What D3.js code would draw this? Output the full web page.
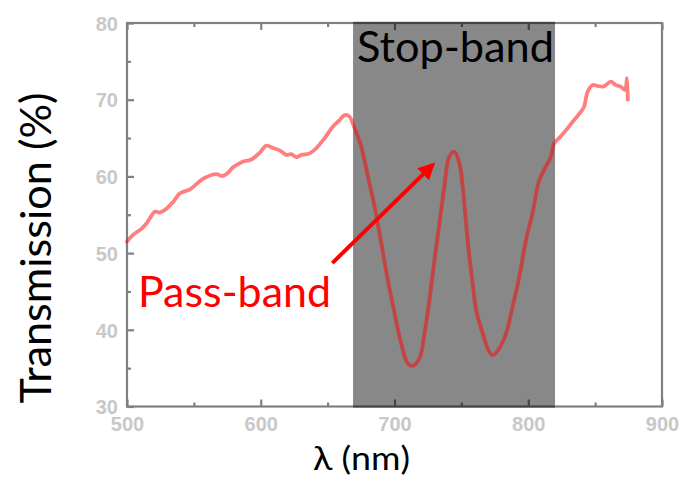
<!DOCTYPE html>
<html>
<head>
<meta charset="utf-8">
<script src="https://cdn.jsdelivr.net/npm/d3@7"></script>
<style>
  html, body { margin: 0; padding: 0; background: #fff; }
  svg { display: block; }
</style>
</head>
<body>
<svg id="chart" width="697" height="483"></svg>
<script>
// Measured transmission spectrum
const wavelength = [
  500, 504.7, 511, 514.7, 520.9, 524.6, 529.6, 534.6, 539.6, 547, 552, 557, 567, 570.7,
  574.4, 579.3, 584, 588, 593, 599.3, 604.2, 609.2, 614.2, 619.2, 622.9, 626.6, 630.4,
  636.6, 641.6, 647.8, 654, 659, 662.7, 666.4, 669.2, 675.1, 680.1, 685.1, 690.1, 695,
  700, 705, 710, 713.7, 718.7, 722.4, 726.1, 729.9, 733.6, 737.3, 741, 744.8, 748.5,
  751, 753.5, 756, 758.4, 761, 766, 770.9, 773.4, 778.4, 783.4, 788.3, 793.3, 798.3,
  803.2, 808.2, 813.2, 817, 819.4, 823.1, 828.1, 833.1, 839.3, 841.8, 844.3, 848,
  851.7, 855.5, 858, 861.7, 865.5, 869.2, 872.4, 873.8, 874.4
];
const transmission = [
  51.5, 52.4, 53.2, 53.9, 55.4, 55.3, 55.8, 56.7, 57.8, 58.3, 59.0, 59.7, 60.3, 60.05,
  60.3, 61.2, 61.7, 62.0, 62.2, 63.1, 64.0, 63.7, 63.4, 62.8, 62.9, 62.5, 62.8,
  63.0, 63.7, 65.0, 66.5, 67.35, 68.0, 67.8, 66.7, 63.9, 60.0, 56.05, 51.3, 46.5,
  42.2, 38.2, 35.6, 35.3, 36.3, 39.5, 43.9, 49.1, 53.9, 58.7, 62.6, 63.2, 61.7,
  58.7, 53.9, 49.5, 46.1, 42.6, 39.5, 37.1, 36.7, 37.6, 39.5, 43.0, 46.9, 51.7,
  55.2, 59.5, 61.3, 62.6, 64.3, 65.0, 66.0, 67.1, 68.4, 69.1, 71.0, 71.9,
  71.8, 71.7, 71.9, 72.35, 71.9, 71.7, 71.3, 72.8, 70.0
];

// Axis ticks
const xMajorTicks = [500, 600, 700, 800, 900];
const xMinorTicks = [550, 650, 750, 850];
const yMajorTicks = [30, 40, 50, 60, 70, 80];
const yMinorTicks = [35, 45, 55, 65, 75];

// Stop-band limits (nm)
const stopBand = [669, 820];

// Annotation labels
const stopLabel = "Stop-band";
const passLabel = "Pass-band";
const arrowFrom = [653.5, 48.7];
const arrowTo = [728.6, 61.5];

const svg = d3.select("#chart");
const margin = { left: 127, top: 23, right: 35, bottom: 76.5 };
const W = 697, H = 483;

const x = d3.scaleLinear().domain([500, 900]).range([margin.left, W - margin.right]);
const y = d3.scaleLinear().domain([30, 80]).range([H - margin.bottom, margin.top]);

const axisColor = "#808080";
const labelColor = "#c8c8c8";
const tickFont = "'Liberation Sans', Arial, sans-serif";
const bigFont = "Lato, 'Open Sans', sans-serif";

// Frame
const frame = svg.append("g");
frame.append("rect")
  .attr("x", x(500)).attr("y", y(80))
  .attr("width", x(900) - x(500)).attr("height", y(30) - y(80))
  .attr("fill", "none").attr("stroke", axisColor).attr("stroke-width", 2.2);

// Bottom axis (inward ticks)
const axBottom = frame.append("g").attr("transform", `translate(0,${y(30)})`)
  .call(d3.axisBottom(x).tickValues(xMajorTicks).tickSize(-7).tickPadding(10.5).tickFormat(d3.format("d")));
axBottom.append("g").call(d3.axisBottom(x).tickValues(xMinorTicks).tickSize(-4).tickFormat(""));

// Top axis ticks (inward, no labels)
const axTop = frame.append("g").attr("transform", `translate(0,${y(80)})`)
  .call(d3.axisTop(x).tickValues(xMajorTicks).tickSize(-7).tickFormat(""));
axTop.append("g").call(d3.axisTop(x).tickValues(xMinorTicks).tickSize(-4).tickFormat(""));

// Left axis (inward ticks)
const axLeft = frame.append("g").attr("transform", `translate(${x(500)},0)`)
  .call(d3.axisLeft(y).tickValues(yMajorTicks).tickSize(-7).tickPadding(9).tickFormat(d3.format("d")));
axLeft.append("g").call(d3.axisLeft(y).tickValues(yMinorTicks).tickSize(-4).tickFormat(""));

frame.selectAll(".domain").remove();
frame.selectAll(".tick line").attr("stroke", axisColor).attr("stroke-width", 2.2);
frame.selectAll(".tick text")
  .attr("fill", labelColor)
  .style("font-family", tickFont)
  .style("font-weight", "bold")
  .style("font-size", "20px");
axLeft.selectAll(".tick text").attr("dy", "0.36em");

// Stop-band shading (translucent, darkens the frame beneath)
svg.append("rect")
  .attr("x", x(stopBand[0])).attr("y", y(80) - 1.2)
  .attr("width", x(stopBand[1]) - x(stopBand[0]))
  .attr("height", y(30) - y(80) + 2.4)
  .attr("fill", "rgba(0,0,0,0.467)");

// Spectrum line
const pts = wavelength.map((w, i) => [w, transmission[i]]);
const line = d3.line()
  .x(d => x(d[0])).y(d => y(d[1]))
  .curve(d3.curveCatmullRom.alpha(0.5));
svg.append("path")
  .datum(pts)
  .attr("d", line)
  .attr("fill", "none")
  .attr("stroke", "rgba(255,0,0,0.5)")
  .attr("stroke-width", 3.8)
  .attr("stroke-linejoin", "round")
  .attr("stroke-linecap", "round");

// Labels
svg.append("text")
  .attr("x", x(stopBand[0]) + 4).attr("y", 62)
  .attr("fill", "#000")
  .style("font-family", bigFont).style("font-size", "42px")
  .attr("textLength", 197).attr("lengthAdjust", "spacingAndGlyphs")
  .text(stopLabel);

svg.append("text")
  .attr("x", 138).attr("y", 307)
  .attr("fill", "#ff0000")
  .style("font-family", bigFont).style("font-size", "42px")
  .attr("textLength", 193).attr("lengthAdjust", "spacingAndGlyphs")
  .text(passLabel);

// Arrow
const defs = svg.append("defs");
defs.append("marker")
  .attr("id", "head")
  .attr("viewBox", "0 0 10 10")
  .attr("refX", 8).attr("refY", 5)
  .attr("markerWidth", 5).attr("markerHeight", 4.2)
  .attr("markerUnits", "strokeWidth")
  .attr("orient", "auto")
  .append("path").attr("d", "M0,0 L10,5 L0,10 Z").attr("fill", "#ff0000");

svg.append("line")
  .attr("x1", x(arrowFrom[0])).attr("y1", y(arrowFrom[1]))
  .attr("x2", x(arrowTo[0])).attr("y2", y(arrowTo[1]))
  .attr("stroke", "#ff0000").attr("stroke-width", 4)
  .attr("marker-end", "url(#head)");

// Axis titles
svg.append("text")
  .attr("transform", "translate(51,248) rotate(-90)")
  .attr("text-anchor", "middle")
  .attr("fill", "#000")
  .style("font-family", bigFont).style("font-size", "42px")
  .attr("textLength", 311).attr("lengthAdjust", "spacingAndGlyphs")
  .text("Transmission (%)");

svg.append("text")
  .attr("x", 313).attr("y", 470)
  .attr("fill", "#000")
  .style("font-family", bigFont).style("font-size", "33px")
  .attr("textLength", 97).attr("lengthAdjust", "spacingAndGlyphs")
  .text("λ (nm)");
</script>
</body>
</html>
